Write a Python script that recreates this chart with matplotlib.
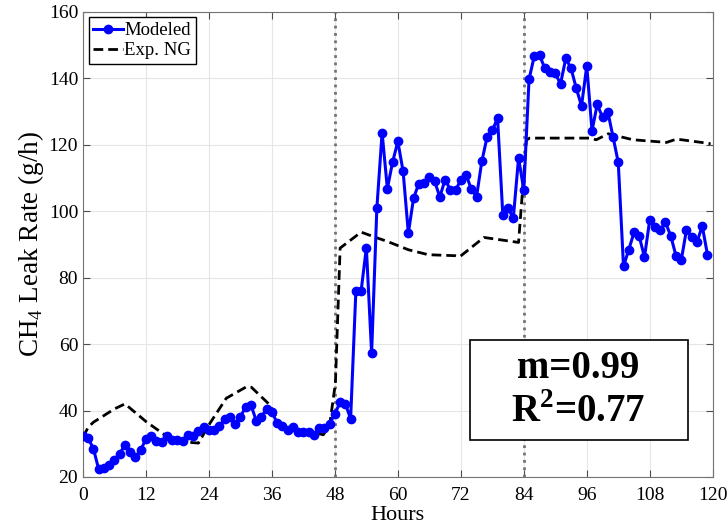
import matplotlib.pyplot as plt
from matplotlib.patches import Rectangle

plt.rcParams['font.family'] = ['Liberation Serif', 'DejaVu Serif']
plt.rcParams['mathtext.fontset'] = 'custom'
plt.rcParams['mathtext.rm'] = 'Liberation Serif'
plt.rcParams['mathtext.bf'] = 'Liberation Serif:bold'

# modeled leak rate, one value per hour (0..119)
modeled = [32.2, 31.7, 28.4, 22.3, 22.6, 23.6, 25.1, 27.0, 29.7, 27.5,
           25.9, 28.2, 31.4, 32.2, 30.7, 30.4, 32.2, 31.2, 31.2, 30.7,
           32.7, 32.4, 33.7, 35.0, 34.2, 34.0, 35.4, 37.4, 38.2, 36.0,
           38.2, 41.0, 41.7, 37.0, 38.2, 40.4, 39.7, 36.2, 35.2, 34.0,
           35.0, 33.5, 33.5, 33.5, 32.7, 34.7, 34.7, 36.0, 39.0, 42.5,
           42.0, 37.5, 76.0, 76.0, 89.0, 57.3, 101.0, 123.6, 106.8, 114.8,
           121.0, 112.0, 93.4, 104.0, 108.3, 108.5, 110.3, 109.0, 104.3, 109.5,
           106.5, 106.4, 109.3, 111.0, 106.6, 104.4, 115.0, 122.3, 124.3, 128.0,
           98.9, 100.9, 97.9, 116.0, 106.4, 139.7, 146.7, 147.0, 143.0, 142.0,
           141.5, 138.3, 146.0, 143.0, 137.0, 131.7, 143.7, 124.2, 132.2, 128.2,
           130.0, 122.4, 114.7, 83.4, 88.4, 93.6, 92.4, 86.2, 97.4, 95.2,
           94.4, 96.6, 92.6, 86.6, 85.2, 94.4, 92.2, 90.6, 95.6, 86.9]
hours = list(range(len(modeled)))

# experimental natural gas leak rate (read at breakpoints)
exp_hours = [0, 1, 2, 4, 6, 8, 12, 16, 18.4, 22, 24.2, 27.3, 31.2, 32.1,
             35.6, 37.2, 38.8, 42, 45.8, 47, 48.1, 49, 53, 55.6, 58, 62,
             65.8, 71, 71.8, 76.4, 83, 84.5, 85.1, 96.6, 97.8, 100.1, 104.8,
             111.2, 113.1, 118.8, 119.6]
exp_vals = [32, 35, 36.5, 38.5, 40.5, 42, 36.7, 32.2, 30.7, 30.2, 36.2, 43.7,
            47.2, 47, 41.7, 36.7, 34.7, 34.2, 32.7, 35.7, 48.2, 88.9, 93.7,
            92.2, 90.9, 88.4, 86.9, 86.6, 86.3, 92.1, 90.6, 121.4, 122.0,
            122.0, 121.5, 123.3, 121.5, 120.7, 121.7, 120.5, 120.3]

event_hours = [48, 84]
stats_text = 'm=0.99\nR$^\\mathbf{2}$=0.77'

fig = plt.figure(figsize=(7.28, 5.31), dpi=100)
ax = fig.add_axes([0.114, 0.1017, 0.865, 0.876])

for h in event_hours:
    ax.axvline(h, color='0.45', linestyle=':', linewidth=2, zorder=1)

ax.plot(hours, modeled, color='#0000ff', linewidth=2.2, marker='o',
        markersize=6, label='Modeled', zorder=3)
ax.plot(exp_hours, exp_vals, color='black', linewidth=2,
        linestyle=(0, (3.5, 1.8)), label='Exp. NG', zorder=2)

ax.set_xlim(0, 120)
ax.set_ylim(20, 160)
ax.set_xticks(range(0, 121, 12))
ax.set_yticks(range(20, 161, 20))
ax.grid(True, color='0.9', linewidth=0.8)
ax.set_axisbelow(True)
ax.tick_params(direction='in', top=True, right=True, labelsize=14,
               length=5, color='0.3')
ax.tick_params(axis='x', pad=7)
for s in ax.spines.values():
    s.set_color('0.45')

ax.set_xlabel('Hours', fontsize=16, labelpad=2)
ax.set_ylabel('CH$_4$ Leak Rate (g/h)', fontsize=19.5, labelpad=2)

leg = ax.legend(loc='upper left', fontsize=13.5, fancybox=False,
                edgecolor='black', framealpha=1, handlelength=1.6,
                handletextpad=0.05, borderpad=0.25, labelspacing=0.15,
                borderaxespad=0.3)
leg.get_frame().set_linewidth(1)

ax.add_patch(Rectangle((0.614, 0.080), 0.346, 0.215, transform=ax.transAxes,
                       facecolor='white', edgecolor='black', linewidth=1.2,
                       zorder=4))
ax.text(0.787, 0.185, stats_text, transform=ax.transAxes, fontsize=28,
        fontweight='bold', ha='center', va='center', linespacing=1.25,
        zorder=5)

fig.savefig('out.png', dpi=100)
